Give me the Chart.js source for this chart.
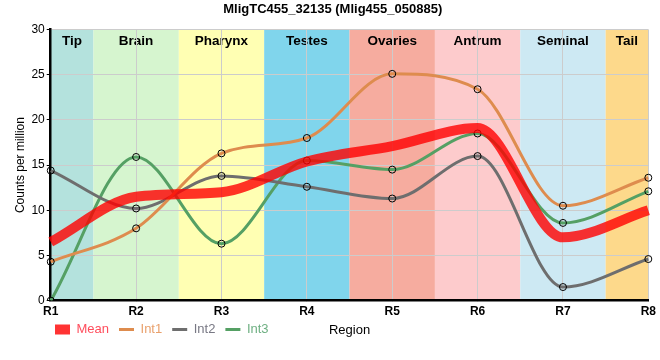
<!DOCTYPE html>
<html>
<head>
<meta charset="utf-8">
<script src="https://cdn.jsdelivr.net/npm/chart.js@4.4.1/dist/chart.umd.min.js"></script>
<style>
  html, body { margin: 0; padding: 0; background: #fff; }
  #wrap { width: 660px; height: 360px; }
</style>
</head>
<body>
<div id="wrap"><canvas id="chart"></canvas></div>
<script>
// 区域とデータ
const regions = ["R1", "R2", "R3", "R4", "R5", "R6", "R7", "R8"];
const bandNames = ["Tip", "Brain", "Pharynx", "Testes", "Ovaries", "Antrum", "Seminal", "Tail"];
const bandColors = ["#b4e2dd", "#d6f5cf", "#ffffb3", "#80d5ec", "#f6ac9f", "#fdcbcc", "#cde9f3", "#fdd98b"];

const meanVals = [6.5, 11.5, 12.0, 15.4, 17.1, 19.1, 7.0, 10.0];
const int1Vals = [4.3, 8.0, 16.3, 18.0, 25.1, 23.4, 10.5, 13.6];
const int2Vals = [14.4, 10.2, 13.8, 12.6, 11.3, 16.0, 1.5, 4.6];
const int3Vals = [0, 15.9, 6.3, 15.5, 14.5, 18.5, 8.6, 12.1];

const seriesColors = ["rgba(255,0,0,0.8)", "#de8c4e", "#6e6e6e", "#55a064"];
const legendTextColors = ["#ff4d5c", "#e9a06c", "#787884", "#6fb083"];

const FONT = "'Liberation Sans', Arial, sans-serif";

// 背景の帯とラベル
const bandPlugin = {
  id: "bands",
  beforeDraw(chart) {
    const { ctx, chartArea, scales } = chart;
    const x = scales.x;
    ctx.save();
    bandNames.forEach((name, i) => {
      const x0 = Math.max(chartArea.left, x.getPixelForValue(i - 0.5));
      const x1 = Math.min(chartArea.right, x.getPixelForValue(i + 0.5));
      ctx.fillStyle = bandColors[i];
      ctx.fillRect(x0, chartArea.top, x1 - x0, chartArea.bottom - chartArea.top);
    });
    ctx.fillStyle = "#000";
    ctx.font = "bold 13.5px " + FONT;
    ctx.textAlign = "center";
    ctx.textBaseline = "middle";
    bandNames.forEach((name, i) => {
      const x0 = Math.max(chartArea.left, x.getPixelForValue(i - 0.5));
      const x1 = Math.min(chartArea.right, x.getPixelForValue(i + 0.5));
      ctx.fillText(name, (x0 + x1) / 2, chartArea.top + 11.5);
    });
    ctx.restore();

    // 凡例の位置をずらす
    const lg = chart.legend;
    if (lg) {
      lg.left = 45;
      lg.top = 313;
    }
  },
  afterDraw(chart) {
    const { ctx, chartArea } = chart;
    ctx.save();
    ctx.fillStyle = "#000";
    ctx.font = "13px " + FONT;
    ctx.textAlign = "center";
    ctx.textBaseline = "middle";
    ctx.fillText("Region", (chartArea.left + chartArea.right) / 2, 330);
    ctx.restore();
  }
};

function lineDs(label, data, i, width, radius) {
  return {
    label: label,
    data: data,
    borderColor: seriesColors[i],
    backgroundColor: seriesColors[i],
    borderWidth: width,
    cubicInterpolationMode: "monotone",
    pointRadius: radius,
    pointHoverRadius: radius,
    pointBorderColor: "#000",
    pointBorderWidth: 1,
    pointBackgroundColor: "rgba(0,0,0,0)",
    fill: false
  };
}

new Chart(document.getElementById("chart"), {
  type: "line",
  data: {
    labels: regions,
    datasets: [
      lineDs("Mean", meanVals, 0, 10, 0),
      lineDs("Int1", int1Vals, 1, 3, 3.5),
      lineDs("Int2", int2Vals, 2, 3, 3.5),
      lineDs("Int3", int3Vals, 3, 3, 3.5)
    ]
  },
  options: {
    responsive: true,
    maintainAspectRatio: false,
    animation: false,
    layout: { padding: { left: 13.5, right: 8, bottom: 4, top: 0 } },
    plugins: {
      title: {
        display: true,
        text: "MligTC455_32135 (Mlig455_050885)",
        color: "#000",
        font: { family: FONT, size: 13, weight: "bold" },
        padding: { top: 2, bottom: 12 }
      },
      legend: {
        position: "bottom",
        align: "start",
        labels: {
          usePointStyle: true,
          pointStyleWidth: 15,
          boxHeight: 10,
          padding: 10,
          font: { family: FONT, size: 13 },
          generateLabels: (chart) => chart.data.datasets.map((ds, i) => ({
            text: ds.label,
            fillStyle: seriesColors[i],
            strokeStyle: seriesColors[i],
            lineWidth: i === 0 ? 0 : 3,
            pointStyle: i === 0 ? "rect" : "line",
            fontColor: legendTextColors[i],
            hidden: false,
            datasetIndex: i
          }))
        }
      },
      tooltip: { enabled: false }
    },
    scales: {
      x: {
        offset: false,
        grid: { color: "#cccccc", tickLength: 0 },
        border: { color: "#000", width: 2.5 },
        ticks: { color: "#000", padding: 4, font: { family: FONT, size: 12, weight: "bold" } }
      },
      y: {
        min: 0,
        max: 30,
        ticks: { stepSize: 5, color: "#000", padding: 2, font: { family: FONT, size: 12 } },
        grid: { color: "#cccccc", tickColor: "#000", tickLength: 4 },
        border: { color: "#000", width: 2.5 },
        title: {
          display: true,
          text: "Counts per million",
          color: "#000",
          font: { family: FONT, size: 12 },
          padding: { top: 0, bottom: 1.5 }
        }
      }
    }
  },
  plugins: [bandPlugin]
});
</script>
</body>
</html>
